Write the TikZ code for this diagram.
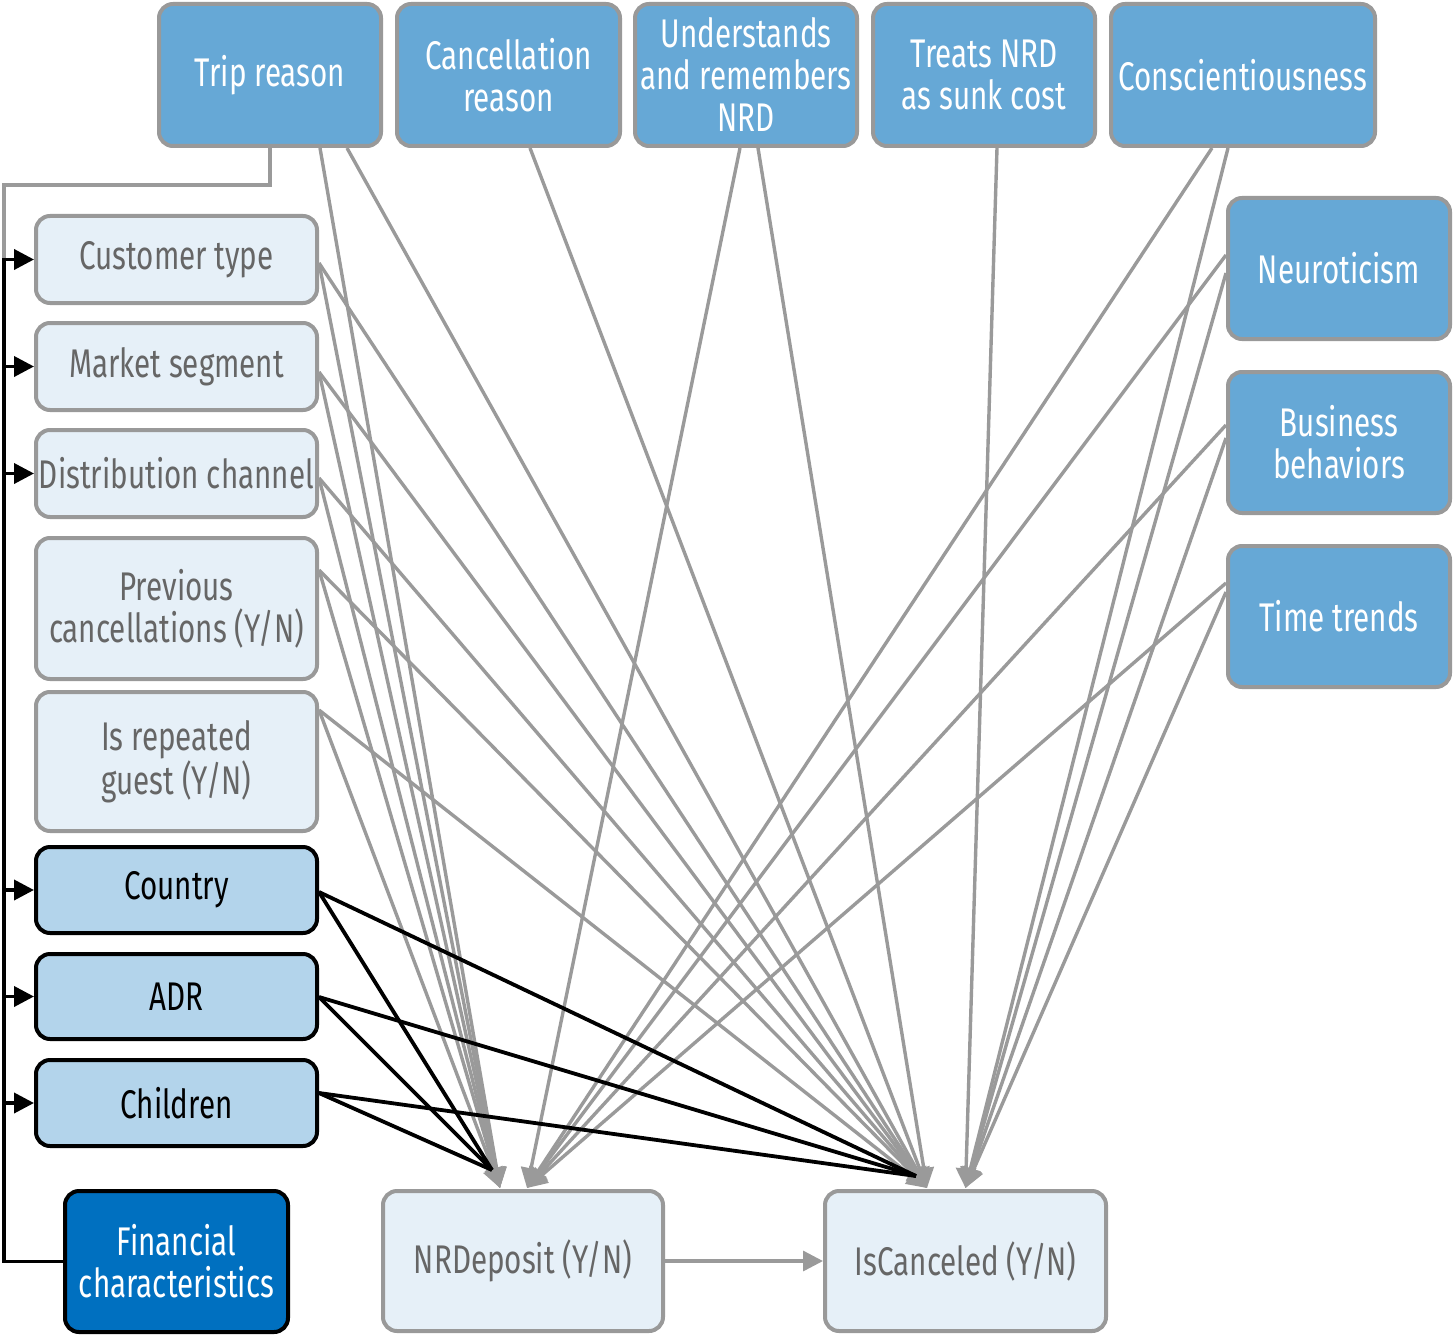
\documentclass[tikz,border=0pt]{standalone}
\usepackage{fontspec}
\setmainfont{Fira Sans}[FakeStretch=0.74]
\usetikzlibrary{arrows.meta,calc}
\definecolor{lightfill}{HTML}{E6F0F8}
\definecolor{graybord}{HTML}{999999}
\definecolor{midblue}{HTML}{66A8D6}
\definecolor{lightblue}{HTML}{B3D4EB}
\definecolor{darkblue}{HTML}{0070C0}
\definecolor{textgray}{HTML}{666666}
\definecolor{linegray}{HTML}{9A9A9A}
\begin{document}
\begin{tikzpicture}[x=0.5pt,y=-0.5pt,
  box/.style={rounded corners=7pt, line width=2pt, align=center, inner sep=0pt,
    font=\fontsize{20}{21}\selectfont},
  lightbox/.style={box, draw=graybord, fill=lightfill, text=textgray},
  topbox/.style={box, draw=graybord, fill=midblue, text=white},
  varbox/.style={box, draw=black, fill=lightblue, text=black},
  finbox/.style={box, draw=black, fill=darkblue, text=white},
  sz/.style 2 args={minimum width=#1*0.5pt, minimum height=#2*0.5pt},
  gline/.style={draw=linegray, line width=1.7pt},
  garrow/.style={gline, -{Triangle[length=10pt,width=10pt]}},
  kline/.style={draw=black, line width=1.9pt},
  karrow/.style={kline, -{Triangle[length=10pt,width=10pt]}},
]
\useasboundingbox (0,0) rectangle (1455,1337);

% top row
\node[topbox, sz={222}{142}] (trip) at (270,75) {Trip reason};
\node[topbox, sz={223}{142}] (canc) at (508.5,75) {Cancellation\\reason};
\node[topbox, sz={222}{142}] (und) at (746,75) {Understands\\and remembers\\NRD};
\node[topbox, sz={222}{142}] (treat) at (984,75) {Treats NRD\\as sunk cost};
\node[topbox, sz={264}{142}] (consc) at (1243,75) {Conscientiousness};

% right column
\node[topbox, sz={222}{141}] (neu) at (1339,268.5) {Neuroticism};
\node[topbox, sz={222}{141}] (bus) at (1339,442.5) {Business\\behaviors};
\node[topbox, sz={222}{141}] (time) at (1339,616.5) {Time trends};

% left column
\node[lightbox, sz={281}{87}] (ct) at (176.5,259.5) {Customer type};
\node[lightbox, sz={281}{87}] (ms) at (176.5,366.5) {Market segment};
\node[lightbox, sz={281}{87}] (dc) at (176.5,473.5) {Distribution channel};
\node[lightbox, sz={281}{141}] (prev) at (176.5,608.5) {Previous\\cancellations (Y/N)};
\node[lightbox, sz={281}{139}] (rep) at (176.5,761.5) {Is repeated\\guest (Y/N)};
\node[varbox, sz={281}{86}] (cty) at (176.5,890) {Country};
\node[varbox, sz={281}{85}] (adr) at (176.5,996.5) {ADR};
\node[varbox, sz={281}{86}] (chi) at (176.5,1103) {Children};
\node[finbox, sz={223}{141}] (fin) at (176.5,1261.5) {Financial\\characteristics};

% bottom
\node[lightbox, sz={280}{140}] (nrd) at (523,1261) {NRDeposit (Y/N)};
\node[lightbox, sz={281}{140}] (ic) at (965.5,1261) {IsCanceled (Y/N)};

% targets
\coordinate (nrA) at ($(nrd.north)+(-23,-1)$);
\coordinate (nrB) at ($(nrd.north)+(4,-1)$);
\coordinate (icA) at ($(ic.north)+(-38.5,-1)$);
\coordinate (icB) at ($(ic.north)+(0,-1)$);
\coordinate (nrK) at ($(nrd.north)+(-31,-19)$);
\coordinate (icK) at ($(ic.north)+(-49.5,-13)$);

% spine
\coordinate (sp) at (4,258);
\coordinate (tp) at (4,185);
\draw[gline] (trip.south) |- (tp) -- (sp);
\draw[kline] (fin.west) -| (sp);
\foreach \n in {ct,ms,dc,cty,adr,chi}{
  \draw[karrow] (sp |- \n.west) -- (\n.west);
}

% gray connectors from left nodes
\foreach \n/\d in {ct/3.5,ms/5.5,dc/4.5,prev/-38.5,rep/-51.5}{
  \draw[garrow] ($(\n.east)+(0,\d)$) -- (nrA);
  \draw[garrow] ($(\n.east)+(0,\d)$) -- (icA);
}

% gray connectors from top row
\draw[garrow] ($(trip.south)+(50,0)$) -- (nrA);
\draw[garrow] ($(trip.south)+(77,0)$) -- (icA);
\draw[garrow] ($(canc.south)+(21.5,0)$) -- (icA);
\draw[garrow] ($(und.south)+(-6,0)$) -- (nrB);
\draw[garrow] ($(und.south)+(12,0)$) -- (icA);
\draw[garrow] ($(treat.south)+(13,0)$) -- (icB);
\draw[garrow] ($(consc.south)+(-31,0)$) -- (nrB);
\draw[garrow] ($(consc.south)+(-15,0)$) -- (icB);

% gray connectors from right column
\draw[garrow] ($(neu.west)+(0,-13.5)$) -- (nrB);
\draw[garrow] ($(neu.west)+(0,4.5)$) -- (icB);
\draw[garrow] ($(bus.west)+(0,-17.5)$) -- (nrB);
\draw[garrow] ($(bus.west)+(0,-4.5)$) -- (icB);
\draw[garrow] ($(time.west)+(0,-33.5)$) -- (nrB);
\draw[garrow] ($(time.west)+(0,-24.5)$) -- (icB);

% black connectors
\foreach \n/\d in {cty/2,adr/0.5,chi/-10}{
  \draw[kline] ($(\n.east)+(0,\d)$) -- (nrK);
  \draw[kline] ($(\n.east)+(0,\d)$) -- (icK);
}

% NRDeposit -> IsCanceled
\draw[garrow] (nrd.east) -- (ic.west);
\end{tikzpicture}
\end{document}
